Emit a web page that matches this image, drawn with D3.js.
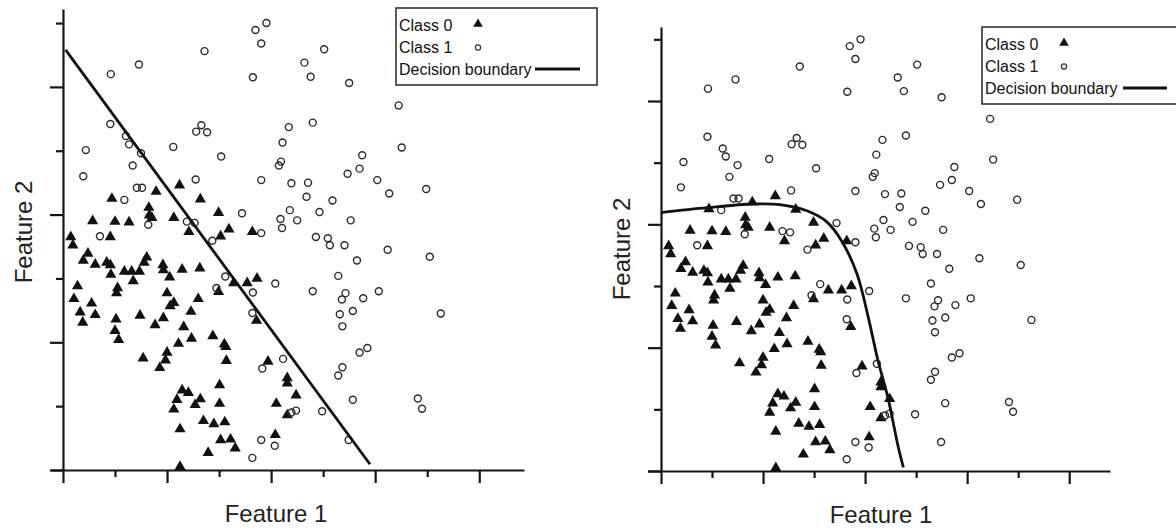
<!DOCTYPE html>
<html>
<head>
<meta charset="utf-8">
<script src="https://cdn.jsdelivr.net/npm/d3@7"></script>
<style>
  body { margin: 0; background: #fff; }
  svg { display: block; font-family: "Liberation Sans", Arial, sans-serif; }
</style>
</head>
<body>
<div id="chart"></div>
<script>
// class 0 points (filled triangles), [feature1, feature2] in tick units
var class0 = [
  [2.24,4.46],[1.79,4.36],[0.94,4.25],[2.64,4.24],[1.65,4.11],[1.71,3.95],[1.66,3.99],
  [2.99,4.03],[2.13,3.95],[0.57,3.90],[1.00,3.89],[1.27,3.88],[2.42,3.73],[3.19,3.77],
  [3.64,3.73],[3.03,3.66],[0.15,3.65],[0.91,3.65],[0.19,3.52],[0.48,3.39],[0.39,3.28],
  [0.62,3.22],[0.84,3.25],[0.91,3.21],[0.92,3.06],[1.18,3.11],[1.32,3.11],[1.47,3.11],
  [1.35,2.96],[1.61,3.33],[1.56,3.25],[1.92,3.21],[1.93,3.13],[2.05,3.02],[2.29,3.14],
  [2.63,3.16],[0.28,2.88],[0.21,2.68],[0.33,2.47],[0.38,2.31],[0.55,2.61],[0.62,2.43],
  [1.05,2.85],[1.03,2.77],[1.02,2.36],[1.00,2.18],[1.07,2.04],[1.48,2.42],[2.00,2.77],
  [2.13,2.62],[2.06,2.57],[2.60,2.68],[2.46,2.48],[1.93,2.38],[1.77,2.27],[2.32,2.24],
  [2.47,2.06],[2.22,1.98],[2.88,2.10],[3.10,1.97],[3.13,1.93],[3.14,1.71],[1.54,1.75],
  [2.00,1.84],[1.97,1.72],[1.86,1.60],[2.29,1.25],[2.41,1.21],[2.19,1.10],[2.13,0.95],
  [2.64,1.11],[2.54,1.02],[3.01,1.33],[3.01,1.04],[2.25,0.64],[2.70,0.77],[2.90,0.72],
  [3.11,0.75],[3.03,0.47],[3.22,0.48],[3.31,0.34],[2.79,0.27],[2.25,0.05],[2.99,2.79],
  [3.28,2.93],[3.54,2.93],[3.73,3.00],[3.72,2.34],[3.94,1.70],[4.31,1.44],[4.31,1.36],
  [4.48,1.17],[4.10,1.04],[4.31,0.86],[4.08,0.55]
];

// class 1 points (open circles)
var class1 = [
  [3.70,6.89],[3.91,7.00],[3.81,6.68],[2.72,6.56],[1.46,6.35],[0.92,6.20],[3.65,6.15],
  [5.02,6.59],[4.64,6.38],[4.76,6.16],[5.50,6.06],[6.45,5.71],[0.91,5.42],[2.66,5.40],
  [2.56,5.30],[2.77,5.29],[1.21,5.23],[1.27,5.10],[1.50,4.96],[2.12,5.06],[0.44,5.01],
  [3.04,4.91],[1.34,4.77],[0.39,4.60],[2.55,4.55],[3.81,4.54],[1.42,4.42],[1.52,4.42],
  [1.18,4.23],[3.44,4.02],[2.38,3.89],[2.53,3.87],[1.64,3.84],[0.71,3.66],[2.87,3.59],
  [4.34,5.37],[4.80,5.44],[4.22,5.13],[6.51,5.05],[5.75,4.93],[4.19,4.83],[4.15,4.77],
  [5.70,4.72],[5.47,4.64],[6.04,4.54],[6.27,4.33],[6.98,4.40],[4.39,4.49],[4.71,4.50],
  [4.68,4.28],[5.18,4.22],[4.93,4.04],[4.36,4.07],[4.18,3.93],[4.50,3.91],[4.21,3.79],
  [5.53,3.91],[3.81,3.71],[4.86,3.65],[5.09,3.63],[5.13,3.52],[5.41,3.52],[6.24,3.45],
  [7.05,3.34],[5.65,3.28],[5.29,3.04],[4.08,2.92],[4.80,2.80],[5.43,2.77],[5.36,2.67],
  [5.77,2.69],[6.07,2.80],[5.57,2.49],[5.32,2.44],[5.37,2.25],[7.26,2.45],[5.85,1.91],
  [5.70,1.84],[4.23,1.74],[3.83,1.59],[5.37,1.61],[5.29,1.48],[5.57,1.10],[6.82,1.12],
  [6.90,0.96],[4.39,0.90],[4.48,0.93],[4.98,0.92],[3.81,0.47],[4.07,0.38],[5.49,0.47],
  [3.64,0.19],[3.12,3.03],[2.95,2.85],[3.65,2.78],[3.64,2.46]
];

// decision boundaries
var linearBoundary = [[0.05,6.58],[5.90,0.09]];
var curvedBoundary = [
  [0.00,4.19],[0.91,4.27],[1.81,4.33],[2.33,4.32],[2.86,4.22],[3.25,4.04],[3.54,3.73],
  [3.84,3.20],[4.06,2.50],[4.25,1.80],[4.45,1.18],[4.65,0.39],[4.75,0.06]
];

var tickValuesX = d3.range(0, 9);
var tickValuesY = d3.range(0, 8);
var legendLabels = ["Class 0", "Class 1", "Decision boundary"];

var width = 1176;
var height = 528;

var svg = d3.select("#chart")
  .append("svg")
  .attr("width", width)
  .attr("height", height);

function drawPanel(p) {
  var g = svg.append("g");

  var x = d3.scaleLinear().domain(p.xDomain).range(p.xRange);
  var y = d3.scaleLinear().domain(p.yDomain).range(p.yRange);

  // X axis
  var xAxis = g.append("g")
    .attr("transform", "translate(0," + y(0) + ")")
    .call(d3.axisBottom(x).tickValues(tickValuesX).tickSizeOuter(0).tickFormat(""));
  xAxis.selectAll(".tick line").attr("y2", function (d) { return d % 2 == 0 ? 13 : 7; });

  // Y axis
  var yAxis = g.append("g")
    .attr("transform", "translate(" + x(0) + ",0)")
    .call(d3.axisLeft(y).tickValues(tickValuesY).tickSizeOuter(0).tickFormat(""));
  yAxis.selectAll(".tick line").attr("x2", function (d) { return d % 2 == 0 ? -13 : -7; });

  g.selectAll(".domain, .tick line")
    .attr("stroke", "#151515")
    .attr("stroke-width", 2.2);

  // points
  g.selectAll(".tri")
    .data(class0)
    .join("path")
    .attr("class", "tri")
    .attr("transform", d => "translate(" + x(d[0]) + "," + y(d[1]) + ")")
    .attr("d", d3.symbol(d3.symbolTriangle).size(54))
    .attr("fill", "#111");

  g.selectAll(".circ")
    .data(class1)
    .join("circle")
    .attr("class", "circ")
    .attr("cx", d => x(d[0]))
    .attr("cy", d => y(d[1]))
    .attr("r", 3.5)
    .attr("fill", "none")
    .attr("stroke", "#2a2a2a")
    .attr("stroke-width", 1.4);

  // boundary
  g.append("path")
    .datum(p.boundary)
    .attr("fill", "none")
    .attr("stroke", "#111")
    .attr("stroke-width", 2.8)
    .attr("d", d3.line()
      .x(d => x(d[0]))
      .y(d => y(d[1]))
      .curve(p.curve));

  // axis titles
  g.append("text")
    .attr("x", p.xLabel[0])
    .attr("y", p.xLabel[1])
    .attr("text-anchor", "middle")
    .attr("font-size", 24)
    .attr("fill", "#222")
    .text("Feature 1");

  g.append("text")
    .attr("transform", "translate(" + p.yLabel[0] + "," + p.yLabel[1] + ") rotate(-90)")
    .attr("text-anchor", "middle")
    .attr("font-size", 24)
    .attr("fill", "#222")
    .text("Feature 2");

  // legend
  var lg = g.append("g").attr("transform", "translate(" + p.legend[0] + "," + p.legend[1] + ")");
  lg.append("rect")
    .attr("x", 0)
    .attr("y", 0)
    .attr("width", p.legend[2])
    .attr("height", 77)
    .attr("fill", "#fff")
    .attr("stroke", "#333")
    .attr("stroke-width", 1.6);

  lg.selectAll("text")
    .data(legendLabels)
    .join("text")
    .attr("x", 3)
    .attr("y", (d, i) => 23 + i * 22)
    .attr("font-size", 16)
    .attr("fill", "#111")
    .text(d => d);

  lg.append("path")
    .attr("transform", "translate(82,16)")
    .attr("d", d3.symbol(d3.symbolTriangle).size(40))
    .attr("fill", "#111");
  lg.append("circle")
    .attr("cx", 82)
    .attr("cy", 39.5)
    .attr("r", 2.6)
    .attr("fill", "none")
    .attr("stroke", "#333")
    .attr("stroke-width", 1.2);
  lg.append("line")
    .attr("x1", p.legendLine[0])
    .attr("x2", p.legendLine[1])
    .attr("y1", 61)
    .attr("y2", 61)
    .attr("stroke", "#111")
    .attr("stroke-width", 2.8);
}

drawPanel({
  xDomain: [-0.23, 8.86], xRange: [51, 524],
  yDomain: [0, 7.22], yRange: [470, 9],
  boundary: linearBoundary, curve: d3.curveLinear,
  xLabel: [276, 522], yLabel: [32, 232],
  legend: [396, 8, 201], legendLine: [139, 184]
});

drawPanel({
  xDomain: [-0.255, 8.80], xRange: [648, 1110],
  yDomain: [0, 7.20], yRange: [471, 27],
  boundary: curvedBoundary, curve: d3.curveCatmullRom,
  xLabel: [881, 523], yLabel: [630, 249],
  legend: [982, 27, 200], legendLine: [141, 185]
});
</script>
</body>
</html>
